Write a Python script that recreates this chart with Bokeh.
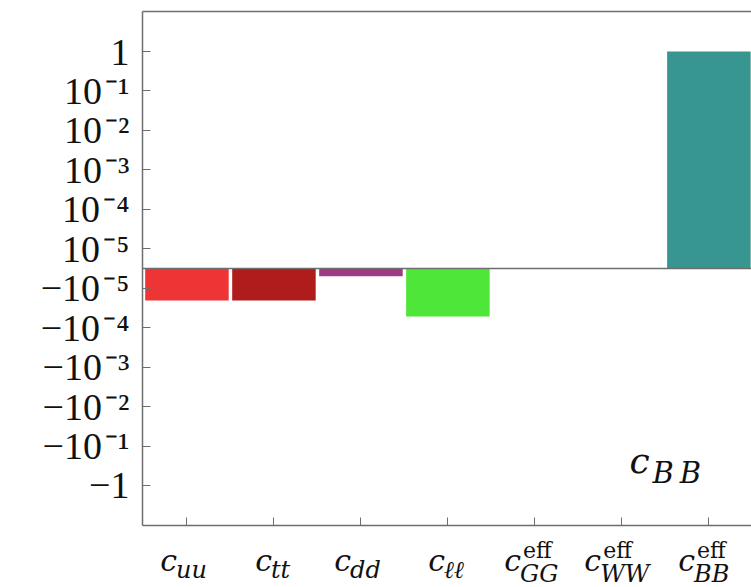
import numpy as np
from bokeh.plotting import figure
from bokeh.layouts import column
from bokeh.models import Range1d, FixedTicker, Span, ColumnDataSource, LinearAxis
from bokeh.core.properties import value
from bokeh.embed import file_html
from bokeh.resources import INLINE

# ---------------- data ----------------
categories = ["uu", "tt", "dd", "ℓℓ", "GG", "WW", "BB"]
superscripts = ["", "", "", "", "eff", "eff", "eff"]
values = [-2.05e-5, -2.05e-5, -3.9e-6, -5.2e-5, 0.0, 0.0, 1.0]
colors = ["#ee3434", "#b01b1b", "#9e3a86", "#4fe63a", "#37968f", "#37968f", "#37968f"]

tick_values = [1, 1e-1, 1e-2, 1e-3, 1e-4, 1e-5,
               -1e-5, -1e-4, -1e-3, -1e-2, -1e-1, -1]
tick_labels = ["1", "10\u200a⁻¹", "10\u200a⁻²", "10\u200a⁻³", "10\u200a⁻⁴", "10\u200a⁻⁵",
               "−10\u200a⁻⁵", "−10\u200a⁻⁴", "−10\u200a⁻³", "−10\u200a⁻²", "−10\u200a⁻¹", "−1"]

# junction offsets (px) between "c" and its subscript, relative to each tick
junction_px = [-11, -3, -11, -4, -15, -22, -15]

LINTHRESH = 1e-5


def symlog(v):
    v = np.asarray(v, dtype=float)
    a = np.abs(v)
    logpart = np.sign(v) * (np.log10(np.maximum(a, LINTHRESH) / LINTHRESH) + 0.5)
    linpart = v / LINTHRESH * 0.5
    return np.where(a >= LINTHRESH, logpart, linpart)


xs = np.arange(len(categories))
src = ColumnDataSource(dict(x=xs, top=symlog(values), bottom=np.zeros(len(xs)),
                            color=colors))

Y0, Y1 = -6.514, 6.514
X0, X1 = -0.511, 6.49
PX_Y = 39.45   # pixels per y unit
PX_X = 88.1    # pixels per category
AXC = "#6e6e6e"
TXT = "#111111"
BL = 0.35      # baseline compensation (fraction of font size)

xr = Range1d(X0, X1)
p = figure(width=751, height=530, output_backend="svg", toolbar_location=None,
           x_range=xr, y_range=Range1d(Y0, Y1),
           min_border_left=142, min_border_right=0, min_border_top=11,
           min_border_bottom=5)
p.grid.visible = False
p.background_fill_color = "white"
p.border_fill_color = "white"
p.outline_line_color = None

p.vbar(x="x", top="top", bottom="bottom", width=0.96, fill_color="color",
       line_color=None, source=src)

p.add_layout(Span(location=0, dimension="width", line_color=AXC, line_width=1.5))

# y axis
ya = p.yaxis[0]
ya.ticker = FixedTicker(ticks=list(symlog(tick_values)))
ya.major_label_overrides = {float(t): l for t, l in zip(symlog(tick_values), tick_labels)}
ya.major_label_text_font = "Liberation Serif"
ya.major_label_text_font_size = "38px"
ya.major_label_text_color = TXT
ya.major_label_standoff = 13
ya.major_tick_in = 8
ya.major_tick_out = 0
ya.minor_tick_line_color = None
ya.axis_line_color = AXC
ya.axis_line_width = 1.5
ya.major_tick_line_color = AXC

# x axis: tick marks (as minor ticks, so no empty labels), labels in strip below
xa = p.below[0]
xa.ticker = FixedTicker(ticks=[], minor_ticks=list(xs))
xa.major_label_standoff = 0
xa.minor_tick_in = 8
xa.minor_tick_out = 0
xa.minor_tick_line_color = AXC
xa.axis_line_color = AXC
xa.axis_line_width = 1.5

# top frame line
top_axis = LinearAxis(ticker=FixedTicker(ticks=[]), major_tick_line_color=None,
                      minor_tick_line_color=None, major_label_standoff=0,
                      axis_line_color=AXC, axis_line_width=1.5)
p.add_layout(top_axis, "above")

# in-panel label c_BB
p.text(x=[6 + (655 - 715) / PX_X], y=[(268 - 473 + BL * 36) / PX_Y], text=["c"],
       text_font=value("DejaVu Serif"), text_font_style="italic",
       text_font_size="36px", text_align="right", text_baseline="alphabetic",
       text_color=TXT)
p.text(x=[6 + (658 - 715) / PX_X], y=[(268 - 483 + BL * 29) / PX_Y], text=["B\u2009B"],
       text_font=value("DejaVu Serif"), text_font_style="italic",
       text_font_size="29px", text_align="left", text_baseline="alphabetic",
       text_color=TXT)

# ---------- strip with the category labels (shares the x range) ----------
p2 = figure(width=751, height=57, output_backend="svg", toolbar_location=None,
            x_range=xr, y_range=Range1d(62, 5),
            x_axis_location=None, y_axis_location=None,
            min_border_left=142, min_border_right=0, min_border_top=0,
            min_border_bottom=0)
p2.grid.visible = False
p2.outline_line_color = None
p2.background_fill_color = "white"
p2.border_fill_color = "white"

xj = [i + j / PX_X for i, j in zip(xs, junction_px)]
p2.text(x=[x + 1 / PX_X for x in xj], y=[45 - BL * 30] * len(xs), text=["c"] * len(xs),
        text_font=value("DejaVu Serif"), text_font_style="italic",
        text_font_size="30px", text_align="right", text_baseline="alphabetic",
        text_color=TXT)
p2.text(x=xj, y=[(57 if s else 53) - BL * 24 for s in superscripts], text=categories,
        text_font=value("DejaVu Serif"), text_font_style="italic",
        text_font_size="24px", text_align="left", text_baseline="alphabetic",
        text_color=TXT)
eff_x = [x + 3 / PX_X for x, s in zip(xj, superscripts) if s]
eff_t = [s for s in superscripts if s]
p2.text(x=eff_x, y=[33 - BL * 22] * len(eff_x), text=eff_t,
        text_font=value("DejaVu Serif"), text_font_size="22px",
        text_align="left", text_baseline="alphabetic", text_color=TXT)

layout = column(p, p2, spacing=0)
open("out.html", "w").write(file_html(layout, INLINE))
